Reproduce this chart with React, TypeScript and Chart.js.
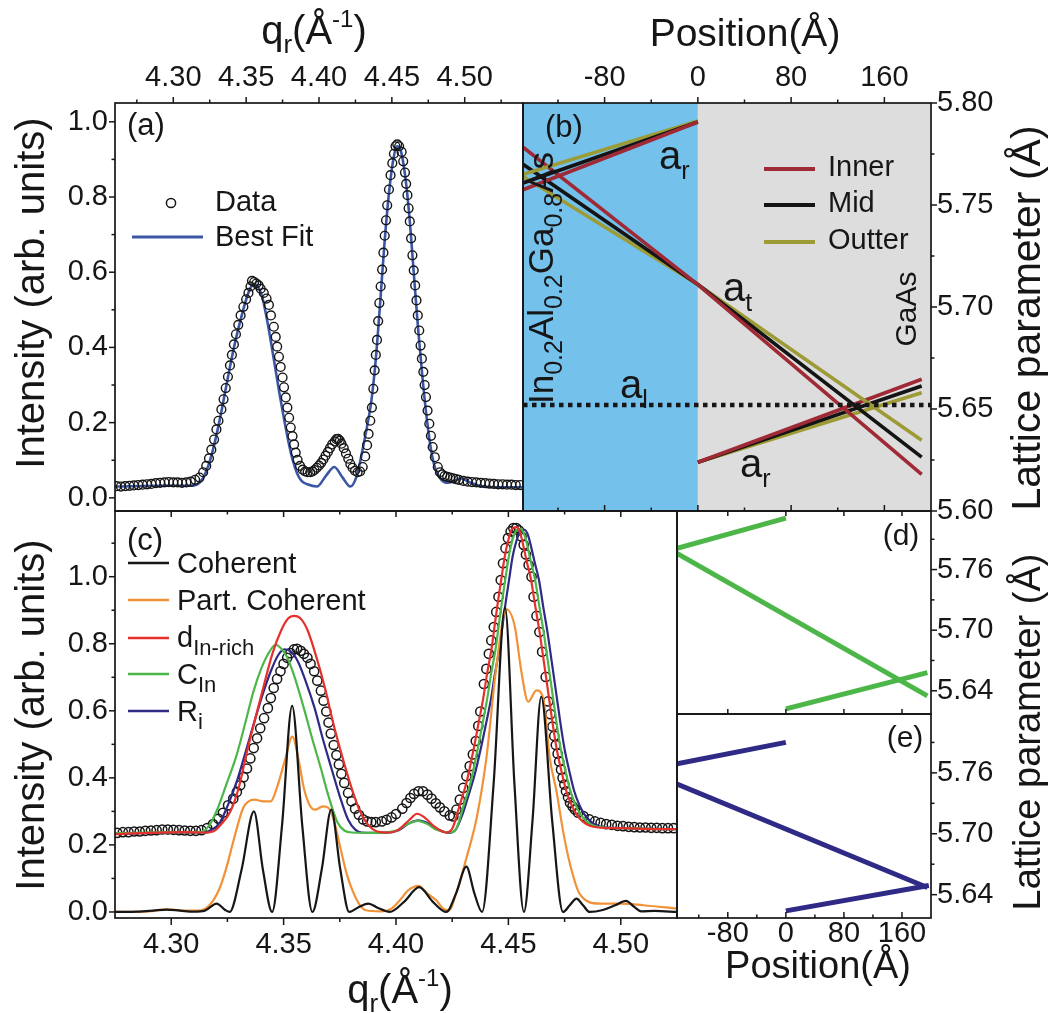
import React, { useEffect, useRef } from 'react';
import { Chart, registerables } from 'chart.js';

Chart.register(...registerables);

const W = 1051;
const H = 1013;
const FONT = '"Liberation Sans", Arial, Helvetica, sans-serif';
const INK = '#161616';

type Pt = [number, number];

// ---------------- Panel (a): q_r vs intensity ----------------
const aData: Pt[] = [
  [4.261, 0.031], [4.264, 0.030], [4.267, 0.031], [4.270, 0.032], [4.273, 0.033], [4.276, 0.034], [4.279, 0.035],
  [4.282, 0.036], [4.285, 0.037], [4.288, 0.039], [4.291, 0.040], [4.294, 0.041], [4.297, 0.042], [4.300, 0.041],
  [4.303, 0.041], [4.306, 0.040], [4.309, 0.041], [4.312, 0.043], [4.315, 0.048], [4.318, 0.054], [4.3205, 0.068],
  [4.3226, 0.085], [4.3245, 0.105], [4.3261, 0.128], [4.328, 0.155], [4.3296, 0.182], [4.331, 0.205], [4.333, 0.235],
  [4.3345, 0.262], [4.336, 0.292], [4.3375, 0.322], [4.3389, 0.352], [4.3402, 0.38], [4.3416, 0.408], [4.343, 0.435],
  [4.3446, 0.46], [4.3462, 0.485], [4.3481, 0.508], [4.350, 0.528], [4.3516, 0.545], [4.353, 0.562], [4.354, 0.577],
  [4.3555, 0.574], [4.357, 0.570], [4.3586, 0.565], [4.360, 0.556], [4.3621, 0.545], [4.364, 0.530], [4.3656, 0.513],
  [4.367, 0.485], [4.369, 0.455], [4.3703, 0.428], [4.3713, 0.402], [4.3725, 0.375], [4.3737, 0.348], [4.375, 0.32],
  [4.376, 0.294], [4.3772, 0.267], [4.3783, 0.24], [4.3795, 0.213], [4.3806, 0.187], [4.3818, 0.164], [4.3829, 0.142],
  [4.384, 0.12], [4.3853, 0.101], [4.387, 0.085], [4.3888, 0.075], [4.3905, 0.070], [4.3922, 0.068], [4.394, 0.068],
  [4.3955, 0.070], [4.3969, 0.074], [4.3985, 0.080], [4.400, 0.086], [4.4015, 0.093], [4.403, 0.102], [4.4045, 0.112],
  [4.4061, 0.122], [4.4075, 0.132], [4.409, 0.142], [4.4108, 0.150], [4.412, 0.156], [4.4131, 0.157], [4.4143, 0.152],
  [4.4154, 0.144], [4.417, 0.132], [4.4185, 0.118], [4.4201, 0.104], [4.4215, 0.09], [4.423, 0.08], [4.4247, 0.072],
  [4.4265, 0.068], [4.4282, 0.07], [4.430, 0.082], [4.4317, 0.11], [4.433, 0.14], [4.434, 0.17], [4.4352, 0.205],
  [4.4363, 0.24], [4.4373, 0.29], [4.4382, 0.339], [4.439, 0.38], [4.4398, 0.42], [4.4406, 0.47], [4.4414, 0.518],
  [4.4423, 0.562], [4.4433, 0.607], [4.4442, 0.652], [4.4451, 0.697], [4.446, 0.738], [4.4468, 0.778], [4.448, 0.82],
  [4.4491, 0.858], [4.4503, 0.89], [4.4514, 0.915], [4.4525, 0.935], [4.4537, 0.940], [4.455, 0.935], [4.4567, 0.92],
  [4.4578, 0.895], [4.459, 0.865], [4.4598, 0.835], [4.4607, 0.805], [4.4615, 0.77], [4.4623, 0.735], [4.4632, 0.69],
  [4.4641, 0.645], [4.465, 0.605], [4.466, 0.565], [4.4669, 0.525], [4.4678, 0.485], [4.4688, 0.445], [4.4697, 0.405],
  [4.4706, 0.37], [4.4716, 0.335], [4.4725, 0.30], [4.4734, 0.268], [4.4745, 0.232], [4.4757, 0.197], [4.4768, 0.165],
  [4.478, 0.135], [4.4795, 0.108], [4.4815, 0.082], [4.483, 0.068], [4.4846, 0.062], [4.4862, 0.058], [4.488, 0.056],
  [4.490, 0.054], [4.492, 0.052], [4.494, 0.050], [4.496, 0.048], [4.499, 0.045], [4.502, 0.043], [4.505, 0.042],
  [4.508, 0.041], [4.511, 0.040], [4.514, 0.039], [4.517, 0.038], [4.520, 0.037], [4.523, 0.036], [4.526, 0.036],
  [4.529, 0.035], [4.532, 0.035], [4.535, 0.034], [4.538, 0.034],
];
const aFit: Pt[] = [
  [4.26, 0.03], [4.29, 0.032], [4.31, 0.032], [4.316, 0.035], [4.32, 0.05], [4.324, 0.085], [4.328, 0.14],
  [4.332, 0.21], [4.336, 0.29], [4.34, 0.37], [4.344, 0.44], [4.348, 0.5], [4.352, 0.55], [4.355, 0.568],
  [4.358, 0.562], [4.361, 0.535], [4.364, 0.48], [4.367, 0.415], [4.37, 0.345], [4.373, 0.275], [4.376, 0.21],
  [4.379, 0.15], [4.382, 0.1], [4.385, 0.065], [4.388, 0.045], [4.392, 0.036], [4.3985, 0.03], [4.405, 0.06],
  [4.4105, 0.082], [4.416, 0.055], [4.4215, 0.03], [4.426, 0.06], [4.43, 0.13], [4.433, 0.19], [4.436, 0.26],
  [4.439, 0.37], [4.442, 0.52], [4.445, 0.68], [4.448, 0.81], [4.451, 0.9], [4.4535, 0.935], [4.456, 0.925],
  [4.459, 0.86], [4.462, 0.75], [4.465, 0.6], [4.468, 0.45], [4.471, 0.32], [4.474, 0.21], [4.477, 0.125],
  [4.48, 0.075], [4.484, 0.048], [4.488, 0.04], [4.493, 0.045], [4.497, 0.052], [4.503, 0.042], [4.51, 0.032],
  [4.52, 0.028], [4.54, 0.028],
];
const aTicksX = [4.3, 4.35, 4.4, 4.45, 4.5];
const aMinorX = [4.275, 4.325, 4.375, 4.425, 4.475, 4.525];
const aTicksY = [0, 0.2, 0.4, 0.6, 0.8, 1.0];
const aMinorY = [0.1, 0.3, 0.5, 0.7, 0.9];

// ---------------- Panel (b): lattice parameter vs position ----------------
const bPosT = [-150, 0, 192];
const bInnerT = [5.7783, 5.711, 5.618];
const bMidT = [5.770, 5.711, 5.6264];
const bOutT = [5.764, 5.711, 5.6347];
const bPosUp = [-150, 0];
const bInnerUp = [5.7575, 5.7907];
const bMidUp = [5.7608, 5.7907];
const bOutUp = [5.765, 5.7912];
const bPosLow = [0, 192];
const bInnerLow = [5.6239, 5.6646];
const bMidLow = [5.6239, 5.6613];
const bOutLow = [5.6239, 5.658];
const bAlPos = [-150, 200];
const bAl = 5.652;
const bBlueRange = [-150, 0];
const bGrayRange = [0, 200];
const bTicksX = [-80, 0, 80, 160];
const bMinorX = [-120, -40, 40, 120];
const bTicksY = [5.6, 5.65, 5.7, 5.75, 5.8];
const bMinorY = [5.625, 5.675, 5.725, 5.775];

// ---------------- Panel (c): simulations ----------------
const cData: Pt[] = [
  [4.276, 0.236], [4.2785, 0.238], [4.281, 0.238], [4.2835, 0.240], [4.286, 0.240], [4.2885, 0.242], [4.291, 0.243],
  [4.2935, 0.244], [4.296, 0.246], [4.2985, 0.246], [4.301, 0.245], [4.3035, 0.244], [4.306, 0.243], [4.3085, 0.242],
  [4.311, 0.242], [4.3135, 0.244], [4.316, 0.25], [4.3186, 0.262], [4.321, 0.278], [4.323, 0.296], [4.3253, 0.318],
  [4.3276, 0.338], [4.3292, 0.358], [4.3307, 0.378], [4.3322, 0.402], [4.3337, 0.428], [4.3352, 0.458], [4.3367, 0.489],
  [4.3382, 0.518], [4.3396, 0.548], [4.3413, 0.578], [4.343, 0.608], [4.3443, 0.638], [4.3456, 0.668], [4.3471, 0.695],
  [4.3486, 0.718], [4.350, 0.740], [4.3516, 0.758], [4.353, 0.772], [4.3546, 0.783], [4.356, 0.785], [4.3576, 0.779],
  [4.359, 0.770], [4.3606, 0.758], [4.362, 0.740], [4.3636, 0.718], [4.365, 0.690], [4.3666, 0.660], [4.3678, 0.630],
  [4.369, 0.598], [4.370, 0.565], [4.371, 0.532], [4.3723, 0.498], [4.3735, 0.468], [4.3746, 0.440], [4.3757, 0.412],
  [4.377, 0.385], [4.3787, 0.355], [4.3802, 0.330], [4.3818, 0.308], [4.3835, 0.290], [4.3854, 0.276], [4.3872, 0.270],
  [4.389, 0.268], [4.391, 0.268], [4.3937, 0.270], [4.3958, 0.275], [4.398, 0.282], [4.400, 0.292], [4.4028, 0.308],
  [4.4047, 0.325], [4.4064, 0.340], [4.408, 0.352], [4.410, 0.360], [4.412, 0.360], [4.414, 0.350], [4.4158, 0.338],
  [4.4177, 0.324], [4.4195, 0.312], [4.4215, 0.300], [4.4239, 0.288], [4.4255, 0.285], [4.4269, 0.305], [4.4284, 0.335],
  [4.4299, 0.370], [4.4313, 0.405], [4.4328, 0.435], [4.4342, 0.470], [4.4355, 0.510], [4.4366, 0.555], [4.4375, 0.598],
  [4.4391, 0.68], [4.4402, 0.725], [4.4413, 0.77], [4.4424, 0.81], [4.4435, 0.85], [4.4446, 0.895], [4.4456, 0.94],
  [4.4466, 0.99], [4.4476, 1.04], [4.4487, 1.085], [4.4498, 1.115], [4.451, 1.135], [4.4522, 1.145], [4.4535, 1.145],
  [4.4547, 1.138], [4.4558, 1.12], [4.4568, 1.095], [4.4578, 1.066], [4.459, 1.035], [4.4603, 1.0], [4.4612, 0.94],
  [4.4625, 0.883], [4.4638, 0.835], [4.465, 0.776], [4.4666, 0.701], [4.4677, 0.628], [4.4687, 0.59], [4.4696, 0.553],
  [4.4704, 0.525], [4.4711, 0.498], [4.4719, 0.472], [4.4726, 0.449], [4.4734, 0.425], [4.4741, 0.40], [4.4749, 0.38],
  [4.4756, 0.36], [4.4765, 0.342], [4.4774, 0.326], [4.4785, 0.315], [4.4796, 0.306], [4.481, 0.296], [4.4834, 0.286],
  [4.486, 0.276], [4.4885, 0.27], [4.491, 0.266], [4.4935, 0.262], [4.496, 0.26], [4.4985, 0.257], [4.501, 0.256],
  [4.5035, 0.254], [4.506, 0.253], [4.5085, 0.252], [4.511, 0.252], [4.5135, 0.251], [4.516, 0.251], [4.5185, 0.25],
  [4.521, 0.25], [4.5235, 0.25],
];
const cCoherent: Pt[] = [
  [4.275, 0.0], [4.285, 0.001], [4.292, 0.004], [4.298, 0.007], [4.304, 0.004], [4.31, 0.001], [4.315, 0.004],
  [4.3202, 0.025], [4.324, 0.006], [4.326, 0.0], [4.3313, 0.126], [4.3368, 0.30], [4.3408, 0.126], [4.3449, 0.0],
  [4.3493, 0.258], [4.3538, 0.615], [4.3583, 0.258], [4.3628, 0.0], [4.367, 0.128], [4.3712, 0.305], [4.3752, 0.128],
  [4.3792, 0.0], [4.3835, 0.015], [4.3877, 0.025], [4.392, 0.012], [4.3972, 0.0], [4.4037, 0.031], [4.4103, 0.074],
  [4.4163, 0.031], [4.4224, 0.0], [4.4268, 0.057], [4.4313, 0.135], [4.4348, 0.057], [4.4383, 0.0], [4.4434, 0.38],
  [4.4485, 0.908], [4.4527, 0.38], [4.4569, 0.0], [4.4607, 0.27], [4.4646, 0.642], [4.4695, 0.27], [4.4743, 0.0],
  [4.4773, 0.02], [4.4803, 0.04], [4.4832, 0.02], [4.4861, 0.0], [4.492, 0.006], [4.4975, 0.02], [4.5023, 0.033],
  [4.506, 0.015], [4.509, 0.002], [4.515, 0.003], [4.525, 0.0],
];
const cPartial: Pt[] = [
  [4.275, 0.0], [4.29, 0.002], [4.298, 0.008], [4.305, 0.004], [4.312, 0.004], [4.317, 0.02], [4.3215, 0.07],
  [4.3246, 0.133], [4.328, 0.22], [4.332, 0.31], [4.3345, 0.33], [4.337, 0.335], [4.341, 0.33], [4.3443, 0.33],
  [4.347, 0.37], [4.3505, 0.45], [4.3539, 0.523], [4.3565, 0.46], [4.359, 0.37], [4.3615, 0.32], [4.364, 0.305],
  [4.3675, 0.315], [4.37, 0.31], [4.3725, 0.27], [4.3757, 0.178], [4.378, 0.115], [4.3804, 0.068], [4.3835, 0.025],
  [4.3866, 0.005], [4.393, 0.002], [4.398, 0.01], [4.4017, 0.035], [4.4055, 0.065], [4.41, 0.078], [4.414, 0.055],
  [4.4179, 0.035], [4.421, 0.01], [4.4235, 0.005], [4.427, 0.06], [4.4313, 0.16], [4.4359, 0.281], [4.4402, 0.459],
  [4.4447, 0.735], [4.4491, 0.903], [4.4528, 0.853], [4.4558, 0.716], [4.4588, 0.627], [4.4625, 0.661],
  [4.4655, 0.637], [4.4684, 0.459], [4.4714, 0.36], [4.4743, 0.242], [4.4774, 0.143], [4.4817, 0.054],
  [4.4906, 0.025], [4.5, 0.025], [4.51, 0.02], [4.525, 0.01],
];
const cInRich: Pt[] = [
  [4.275, 0.232], [4.29, 0.236], [4.305, 0.238], [4.315, 0.237], [4.3186, 0.24], [4.322, 0.26], [4.3262, 0.298],
  [4.33, 0.37], [4.3337, 0.478], [4.3375, 0.58], [4.3413, 0.678], [4.345, 0.77], [4.3488, 0.838], [4.352, 0.875],
  [4.3548, 0.883], [4.358, 0.872], [4.3608, 0.838], [4.3646, 0.76], [4.3684, 0.668], [4.372, 0.565], [4.3759, 0.468],
  [4.38, 0.375], [4.3835, 0.308], [4.387, 0.265], [4.3896, 0.247], [4.393, 0.238], [4.3968, 0.237], [4.401, 0.245],
  [4.406, 0.275], [4.4094, 0.293], [4.413, 0.28], [4.417, 0.255], [4.4205, 0.24], [4.4222, 0.237], [4.425, 0.248],
  [4.4284, 0.32], [4.4315, 0.39], [4.4343, 0.478], [4.4365, 0.555], [4.4388, 0.637], [4.4405, 0.71], [4.4425, 0.785],
  [4.444, 0.86], [4.4455, 0.933], [4.447, 1.0], [4.4484, 1.061], [4.45, 1.11], [4.4514, 1.14], [4.4536, 1.148],
  [4.455, 1.135], [4.4564, 1.10], [4.458, 1.05], [4.4601, 0.99], [4.462, 0.91], [4.4639, 0.834], [4.4658, 0.745],
  [4.4677, 0.656], [4.4695, 0.57], [4.4714, 0.489], [4.4736, 0.42], [4.4758, 0.36], [4.478, 0.32], [4.4803, 0.291],
  [4.483, 0.27], [4.4862, 0.257], [4.49, 0.252], [4.5, 0.25], [4.51, 0.248], [4.525, 0.247],
];
const cCIn: Pt[] = [
  [4.275, 0.235], [4.3, 0.238], [4.3125, 0.238], [4.316, 0.25], [4.32, 0.298], [4.3245, 0.38], [4.3291, 0.468],
  [4.333, 0.565], [4.3366, 0.658], [4.34, 0.725], [4.343, 0.768], [4.3465, 0.797], [4.349, 0.785], [4.3517, 0.758],
  [4.355, 0.698], [4.359, 0.608], [4.3628, 0.515], [4.3666, 0.428], [4.37, 0.345], [4.374, 0.267], [4.377, 0.243],
  [4.3804, 0.237], [4.39, 0.236], [4.4, 0.242], [4.405, 0.262], [4.4098, 0.272], [4.414, 0.262], [4.418, 0.245],
  [4.424, 0.237], [4.4268, 0.248], [4.4302, 0.32], [4.4333, 0.39], [4.4361, 0.478], [4.4383, 0.555], [4.4406, 0.637],
  [4.4423, 0.71], [4.4443, 0.785], [4.4458, 0.86], [4.4473, 0.933], [4.4488, 1.0], [4.4502, 1.061], [4.4518, 1.11],
  [4.4532, 1.135], [4.4554, 1.143], [4.4568, 1.13], [4.4582, 1.10], [4.4598, 1.05], [4.4619, 0.99], [4.4638, 0.91],
  [4.4657, 0.834], [4.4676, 0.745], [4.4695, 0.656], [4.4713, 0.57], [4.4732, 0.489], [4.4754, 0.42], [4.4776, 0.36],
  [4.4798, 0.32], [4.4821, 0.291], [4.4848, 0.27], [4.488, 0.257], [4.492, 0.252], [4.502, 0.25], [4.512, 0.248],
  [4.525, 0.247],
];
const cRi: Pt[] = [
  [4.275, 0.233], [4.3, 0.237], [4.314, 0.237], [4.318, 0.245], [4.3215, 0.265], [4.325, 0.315], [4.3291, 0.388],
  [4.333, 0.475], [4.3366, 0.558], [4.3405, 0.645], [4.3443, 0.718], [4.3475, 0.765], [4.3503, 0.783], [4.353, 0.778],
  [4.3563, 0.748], [4.36, 0.685], [4.3638, 0.608], [4.3675, 0.515], [4.3713, 0.428], [4.375, 0.345], [4.3787, 0.275],
  [4.382, 0.245], [4.3848, 0.237], [4.395, 0.236], [4.401, 0.243], [4.406, 0.265], [4.4098, 0.273], [4.414, 0.265],
  [4.419, 0.245], [4.4235, 0.236], [4.4265, 0.245], [4.4295, 0.29], [4.4319, 0.34], [4.435, 0.41], [4.4378, 0.49],
  [4.44, 0.56], [4.4423, 0.637], [4.444, 0.71], [4.446, 0.785], [4.4475, 0.86], [4.449, 0.933], [4.4505, 1.0],
  [4.4519, 1.061], [4.4535, 1.105], [4.4549, 1.13], [4.4571, 1.14], [4.4585, 1.128], [4.4599, 1.095], [4.4615, 1.048],
  [4.4636, 0.99], [4.4655, 0.91], [4.4674, 0.834], [4.4693, 0.745], [4.4712, 0.656], [4.473, 0.57], [4.4749, 0.489],
  [4.4771, 0.42], [4.4793, 0.36], [4.4815, 0.32], [4.4838, 0.291], [4.4865, 0.27], [4.4897, 0.257], [4.4935, 0.252],
  [4.5035, 0.25], [4.5135, 0.248], [4.525, 0.247],
];
const cTicksX = [4.3, 4.35, 4.4, 4.45, 4.5];
const cMinorX = [4.325, 4.375, 4.425, 4.475];
const cTicksY = [0, 0.2, 0.4, 0.6, 0.8, 1.0];
const cMinorY = [0.1, 0.3, 0.5, 0.7, 0.9, 1.1];

// ---------------- Panels (d), (e) ----------------
const dPosUp = [-150, 0];
const dUp = [5.781, 5.811];
const dPosT = [-150, 195];
const dT = [5.776, 5.635];
const dPosLow = [0, 195];
const dLow = [5.622, 5.658];
const ePosUp = [-150, 0];
const eUp = [5.769, 5.790];
const ePosT = [-150, 195];
const eT = [5.749, 5.647];
const ePosLow = [0, 197];
const eLow = [5.624, 5.649];
const deTicksY = [5.64, 5.7, 5.76];
const deMinorY = [5.67, 5.73, 5.79];
const eTicksX = [-80, 0, 80, 160];
const eMinorX = [-120, -40, 40, 120];

// ---------------- helpers ----------------
const pts = (a: Pt[]) => a.map(([x, y]) => ({ x, y }));
const zip = (xs: number[], ys: number[]) => xs.map((x, i) => ({ x, y: ys[i] }));

function lineDs(data: any[], color: string, width: number, extra: any = {}) {
  return {
    data, showLine: true, borderColor: color, backgroundColor: color, borderWidth: width,
    pointRadius: 0, pointHoverRadius: 0, fill: false, cubicInterpolationMode: 'monotone', ...extra,
  };
}
function segDs(data: any[], color: string, width: number, extra: any = {}) {
  return lineDs(data, color, width, { cubicInterpolationMode: 'default', tension: 0, ...extra });
}
function circleDs(data: any[], r: number, bw: number) {
  return {
    data, showLine: false, pointStyle: 'circle', pointRadius: r, pointHoverRadius: r, pointBorderWidth: bw,
    pointBorderColor: INK, pointBackgroundColor: 'rgba(0,0,0,0)', borderColor: INK, backgroundColor: 'rgba(0,0,0,0)',
  };
}

function axis(position: string, min: number, max: number, ticks: number[], fmt: (v: number) => string,
  size: number, pad: number, lineHeight = 1.2) {
  const horiz = position === 'top' || position === 'bottom';
  return {
    type: 'linear', position, min, max, display: true,
    grid: { display: false, drawTicks: false },
    border: { display: false },
    ticks: {
      padding: pad, autoSkip: false, maxRotation: 0, minRotation: 0, color: INK,
      font: { family: FONT, size: 29, lineHeight },
      callback: (v: any) => fmt(Number(v)),
    },
    afterBuildTicks: (s: any) => { s.ticks = ticks.map((v) => ({ value: v })); },
    afterFit: (s: any) => { if (horiz) s.height = size; else s.width = size; },
  };
}
function hiddenAxis(position: string, min: number, max: number) {
  return { type: 'linear', position, min, max, display: false };
}

type TickSpec = { side: 'top' | 'bottom' | 'left' | 'right'; values: number[]; len: number; inward?: boolean };
const tk = (side: TickSpec['side'], values: number[], len: number, inward = false): TickSpec => ({ side, values, len, inward });

function drawFrameTicks(chart: any, specs: TickSpec[]) {
  const { ctx, chartArea: a, scales } = chart;
  ctx.save();
  ctx.strokeStyle = INK;
  ctx.lineWidth = 1.5;
  for (const s of specs) {
    const horiz = s.side === 'top' || s.side === 'bottom';
    const sc = horiz ? scales.x : scales.y;
    for (const v of s.values) {
      const p = sc.getPixelForValue(v);
      let x0 = 0, y0 = 0, x1 = 0, y1 = 0;
      if (s.side === 'top') { x0 = x1 = p; y0 = a.top; y1 = a.top + (s.inward ? s.len : -s.len); }
      else if (s.side === 'bottom') { x0 = x1 = p; y0 = a.bottom; y1 = a.bottom + (s.inward ? -s.len : s.len); }
      else if (s.side === 'left') { y0 = y1 = p; x0 = a.left; x1 = a.left + (s.inward ? s.len : -s.len); }
      else { y0 = y1 = p; x0 = a.right; x1 = a.right + (s.inward ? -s.len : s.len); }
      ctx.beginPath(); ctx.moveTo(x0, y0); ctx.lineTo(x1, y1); ctx.stroke();
    }
  }
  ctx.lineWidth = 1.7;
  ctx.strokeRect(a.left, a.top, a.right - a.left, a.bottom - a.top);
  ctx.restore();
}

type Part = { t: string; s: number; dy?: number };
function drawRich(ctx: any, parts: Part[], x: number, y: number, align: 'left' | 'center', rot = 0, color = INK) {
  ctx.save();
  ctx.translate(x, y);
  if (rot) ctx.rotate(rot);
  ctx.fillStyle = color;
  ctx.textBaseline = 'alphabetic';
  ctx.textAlign = 'left';
  const widths = parts.map((p) => { ctx.font = `${p.s}px ${FONT}`; return ctx.measureText(p.t).width; });
  const total = widths.reduce((s, w) => s + w, 0);
  let cx = align === 'center' ? -total / 2 : 0;
  parts.forEach((p, i) => {
    ctx.font = `${p.s}px ${FONT}`;
    ctx.fillText(p.t, cx, p.dy || 0);
    cx += widths[i];
  });
  ctx.restore();
}
function text(ctx: any, t: string, x: number, y: number, size: number, align = 'left') {
  ctx.save();
  ctx.font = `${size}px ${FONT}`;
  ctx.fillStyle = INK;
  ctx.textAlign = align;
  ctx.textBaseline = 'middle';
  ctx.fillText(t, x, y);
  ctx.restore();
}
function legendLine(ctx: any, x0: number, x1: number, y: number, color: string, width: number) {
  ctx.save();
  ctx.strokeStyle = color; ctx.lineWidth = width;
  ctx.beginPath(); ctx.moveTo(x0, y); ctx.lineTo(x1, y); ctx.stroke();
  ctx.restore();
}

const QR_TITLE = (s: number): Part[] => [
  { t: 'q', s }, { t: 'r', s: 26, dy: 9 }, { t: '(Å', s }, { t: '-1', s: 24, dy: -17 }, { t: ')', s },
];

function makeConfig(datasets: any[], scales: any, padding: any, plugin: any) {
  return {
    type: 'scatter',
    data: { datasets },
    options: {
      responsive: false, maintainAspectRatio: false, animation: false, devicePixelRatio: 1, events: [],
      layout: { padding },
      plugins: { legend: { display: false }, tooltip: { enabled: false } },
      scales,
    },
    plugins: [plugin],
  };
}

const f1 = (v: number) => v.toFixed(1);
const f2 = (v: number) => v.toFixed(2);
const f0 = (v: number) => String(Math.round(v));

const C_INNER = '#9f2a36';
const C_MID = '#141414';
const C_OUT = '#9d9b35';
const C_FIT = '#3b56a5';
const C_ORANGE = '#f29238';
const C_RED = '#e5302c';
const C_GREEN = '#4cb648';
const C_NAVY = '#2e2a86';

// ---------------- panel configs ----------------
function configA() {
  const specs = [
    tk('left', aTicksY, 6), tk('left', aMinorY, 3.5),
    tk('top', aTicksX, 6), tk('top', aMinorX, 3.5),
  ];
  const plugin = {
    id: 'panelA',
    afterDatasetsDraw: (c: any) => drawFrameTicks(c, specs),
    afterDraw: (c: any) => {
      const ctx = c.ctx;
      drawRich(ctx, QR_TITLE(40), 314, 44, 'center');
      drawRich(ctx, [{ t: 'Intensity (arb. units)', s: 40 }], 44, 293, 'center', -Math.PI / 2);
      text(ctx, '(a)', 127, 126, 31);
      ctx.save();
      ctx.strokeStyle = INK; ctx.lineWidth = 1.5;
      ctx.beginPath(); ctx.arc(171, 203, 4.6, 0, Math.PI * 2); ctx.stroke();
      ctx.restore();
      text(ctx, 'Data', 215, 203, 29);
      legendLine(ctx, 132, 203, 237, C_FIT, 2.8);
      text(ctx, 'Best Fit', 215, 238, 29);
    },
  };
  return makeConfig(
    [circleDs(pts(aData), 4.4, 1.4), lineDs(pts(aFit), C_FIT, 2.6)],
    {
      x: axis('top', 4.26, 4.54, aTicksX, f2, 103, 8),
      y: axis('left', -0.035, 1.05, aTicksY, f1, 115, 7),
    },
    { left: 0, top: 0, right: W - 523, bottom: H - 511 },
    plugin,
  );
}

function configB() {
  const specs = [
    tk('top', bTicksX, 6), tk('top', bMinorX, 3.5),
    tk('bottom', bTicksX, 6, true), tk('bottom', bMinorX, 3.5, true),
    tk('right', bTicksY, 6), tk('right', bMinorY, 3.5),
  ];
  const plugin = {
    id: 'panelB',
    beforeDatasetsDraw: (c: any) => {
      const { ctx, chartArea: a, scales } = c;
      const x = scales.x;
      ctx.save();
      ctx.fillStyle = '#74c1ec';
      const b0 = x.getPixelForValue(bBlueRange[0]);
      const b1 = x.getPixelForValue(bBlueRange[1]);
      ctx.fillRect(b0, a.top, b1 - b0, a.bottom - a.top);
      ctx.fillStyle = '#dddddd';
      const g0 = x.getPixelForValue(bGrayRange[0]);
      const g1 = x.getPixelForValue(bGrayRange[1]);
      ctx.fillRect(g0, a.top, g1 - g0, a.bottom - a.top);
      ctx.restore();
    },
    afterDatasetsDraw: (c: any) => drawFrameTicks(c, specs),
    afterDraw: (c: any) => {
      const ctx = c.ctx;
      drawRich(ctx, [{ t: 'Position(Å)', s: 39 }], 745, 46, 'center');
      drawRich(ctx, [{ t: 'Lattice parameter (Å)', s: 41 }], 1040, 318, 'center', -Math.PI / 2);
      text(ctx, '(b)', 545, 128, 31);
      drawRich(ctx, [{ t: 'a', s: 40 }, { t: 'r', s: 25, dy: 10 }], 659, 169, 'left');
      drawRich(ctx, [{ t: 'a', s: 40 }, { t: 't', s: 25, dy: 10 }], 723, 301, 'left');
      drawRich(ctx, [{ t: 'a', s: 40 }, { t: 'l', s: 25, dy: 10 }], 620, 398, 'left');
      drawRich(ctx, [{ t: 'a', s: 40 }, { t: 'r', s: 25, dy: 10 }], 740, 477, 'left');
      drawRich(ctx, [{ t: 'GaAs', s: 30 }], 916, 309, 'center', -Math.PI / 2);
      drawRich(ctx, [
        { t: 'In', s: 35 }, { t: '0.2', s: 25, dy: 9 }, { t: 'Al', s: 35 }, { t: '0.2', s: 25, dy: 9 },
        { t: 'Ga', s: 35 }, { t: '0.8', s: 25, dy: 9 }, { t: 'As', s: 35 },
      ], 553, 278, 'center', -Math.PI / 2);
      legendLine(ctx, 764, 815, 169, C_INNER, 4);
      legendLine(ctx, 764, 815, 205, C_MID, 4);
      legendLine(ctx, 764, 815, 242, C_OUT, 4);
      text(ctx, 'Inner', 828, 168, 29);
      text(ctx, 'Mid', 828, 204, 29);
      text(ctx, 'Outter', 828, 241, 29);
    },
  };
  const lw = 3.6;
  return makeConfig(
    [
      segDs(zip(bAlPos, [bAl, bAl]), INK, 4.5, { borderDash: [4.5, 4.5] }),
      segDs(zip(bPosUp, bInnerUp), C_INNER, lw),
      segDs(zip(bPosUp, bMidUp), C_MID, lw),
      segDs(zip(bPosUp, bOutUp), C_OUT, lw),
      segDs(zip(bPosT, bInnerT), C_INNER, lw),
      segDs(zip(bPosT, bMidT), C_MID, lw),
      segDs(zip(bPosT, bOutT), C_OUT, lw),
      segDs(zip(bPosLow, bInnerLow), C_INNER, lw),
      segDs(zip(bPosLow, bMidLow), C_MID, lw),
      segDs(zip(bPosLow, bOutLow), C_OUT, lw),
    ],
    {
      x: axis('top', -150, 200, bTicksX, f0, 103, 8),
      y: axis('right', 5.6, 5.8, bTicksY, f2, W - 931, 6),
    },
    { left: 523, top: 0, right: 0, bottom: H - 511 },
    plugin,
  );
}

function configC() {
  const specs = [
    tk('left', cTicksY, 6), tk('left', cMinorY, 3.5),
    tk('bottom', cTicksX, 7), tk('bottom', cMinorX, 4),
    tk('top', cTicksX, 6, true), tk('top', cMinorX, 3.5, true),
  ];
  const plugin = {
    id: 'panelC',
    afterDatasetsDraw: (c: any) => drawFrameTicks(c, specs),
    afterDraw: (c: any) => {
      const ctx = c.ctx;
      drawRich(ctx, QR_TITLE(40), 400, 1003, 'center');
      drawRich(ctx, [{ t: 'Intensity (arb. units)', s: 40 }], 44, 715, 'center', -Math.PI / 2);
      text(ctx, '(c)', 127, 541, 31);
      const lx0 = 128, lx1 = 169, tx = 177;
      legendLine(ctx, lx0, lx1, 563, INK, 2.4);
      drawRich(ctx, [{ t: 'Coherent', s: 29 }], tx, 573, 'left');
      legendLine(ctx, lx0, lx1, 600, C_ORANGE, 2.4);
      drawRich(ctx, [{ t: 'Part. Coherent', s: 29 }], tx, 610, 'left');
      legendLine(ctx, lx0, lx1, 638, C_RED, 2.4);
      drawRich(ctx, [{ t: 'd', s: 29 }, { t: 'In-rich', s: 22, dy: 8 }], tx, 647, 'left');
      legendLine(ctx, lx0, lx1, 674, C_GREEN, 2.4);
      drawRich(ctx, [{ t: 'C', s: 29 }, { t: 'In', s: 22, dy: 8 }], tx, 684, 'left');
      legendLine(ctx, lx0, lx1, 711, C_NAVY, 2.4);
      drawRich(ctx, [{ t: 'R', s: 29 }, { t: 'i', s: 22, dy: 8 }], tx, 721, 'left');
    },
  };
  return makeConfig(
    [
      lineDs(pts(cCoherent), INK, 2.2),
      lineDs(pts(cPartial), C_ORANGE, 2.2),
      lineDs(pts(cInRich), C_RED, 2.2),
      lineDs(pts(cCIn), C_GREEN, 2.2),
      lineDs(pts(cRi), C_NAVY, 2.2),
      circleDs(pts(cData), 4.6, 1.5),
    ],
    {
      x: axis('bottom', 4.275, 4.525, cTicksX, f2, H - 918, 10),
      y: axis('left', -0.018, 1.196, cTicksY, f1, 115, 7),
    },
    { left: 0, top: 511, right: W - 677, bottom: 0 },
    plugin,
  );
}

function configD() {
  const specs = [
    tk('right', deTicksY, 6), tk('right', deMinorY, 3.5),
    tk('top', eTicksX, 5, true), tk('bottom', eTicksX, 5, true),
  ];
  const plugin = {
    id: 'panelD',
    afterDatasetsDraw: (c: any) => drawFrameTicks(c, specs),
    afterDraw: (c: any) => {
      const ctx = c.ctx;
      text(ctx, '(d)', 901, 537, 30, 'center');
      drawRich(ctx, [{ t: 'Lattice parameter (Å)', s: 38 }], 1040, 732, 'center', -Math.PI / 2);
    },
  };
  return makeConfig(
    [
      segDs(zip(dPosUp, dUp), C_GREEN, 5),
      segDs(zip(dPosT, dT), C_GREEN, 5),
      segDs(zip(dPosLow, dLow), C_GREEN, 5),
    ],
    {
      x: hiddenAxis('bottom', -150, 200),
      y: axis('right', 5.617, 5.818, deTicksY, f2, W - 931, 6),
    },
    { left: 677, top: 511, right: 0, bottom: H - 714 },
    plugin,
  );
}

function configE() {
  const specs = [
    tk('right', deTicksY, 6), tk('right', deMinorY, 3.5),
    tk('bottom', eTicksX, 6, true), tk('bottom', eMinorX, 3.5, true),
  ];
  const plugin = {
    id: 'panelE',
    afterDatasetsDraw: (c: any) => drawFrameTicks(c, specs),
    afterDraw: (c: any) => {
      const ctx = c.ctx;
      text(ctx, '(e)', 905, 739, 30, 'center');
      drawRich(ctx, [{ t: 'Position(Å)', s: 38 }], 818, 978, 'center');
    },
  };
  return makeConfig(
    [
      segDs(zip(ePosUp, eUp), C_NAVY, 5),
      segDs(zip(ePosT, eT), C_NAVY, 5),
      segDs(zip(ePosLow, eLow), C_NAVY, 5),
    ],
    {
      x: axis('bottom', -150, 200, eTicksX, f0, H - 918, 1, 1),
      y: axis('right', 5.617, 5.818, deTicksY, f2, W - 931, 6),
    },
    { left: 677, top: 714, right: 0, bottom: 0 },
    plugin,
  );
}

const CONFIGS = [configB, configA, configC, configD, configE];

export default function App() {
  const r0 = useRef<HTMLCanvasElement>(null);
  const r1 = useRef<HTMLCanvasElement>(null);
  const r2 = useRef<HTMLCanvasElement>(null);
  const r3 = useRef<HTMLCanvasElement>(null);
  const r4 = useRef<HTMLCanvasElement>(null);
  const refs = [r0, r1, r2, r3, r4];

  useEffect(() => {
    Chart.defaults.font.family = FONT;
    const charts: Chart[] = [];
    refs.forEach((r, i) => {
      if (r.current) charts.push(new Chart(r.current, CONFIGS[i]() as any));
    });
    return () => charts.forEach((c) => c.destroy());
  }, []);

  return (
    <div style={{ position: 'fixed', left: 0, top: 0, width: W, height: H, background: '#ffffff', overflow: 'hidden' }}>
      {refs.map((r, i) => (
        <canvas key={i} ref={r} width={W} height={H}
          style={{ position: 'absolute', left: 0, top: 0, width: W, height: H }} />
      ))}
    </div>
  );
}
